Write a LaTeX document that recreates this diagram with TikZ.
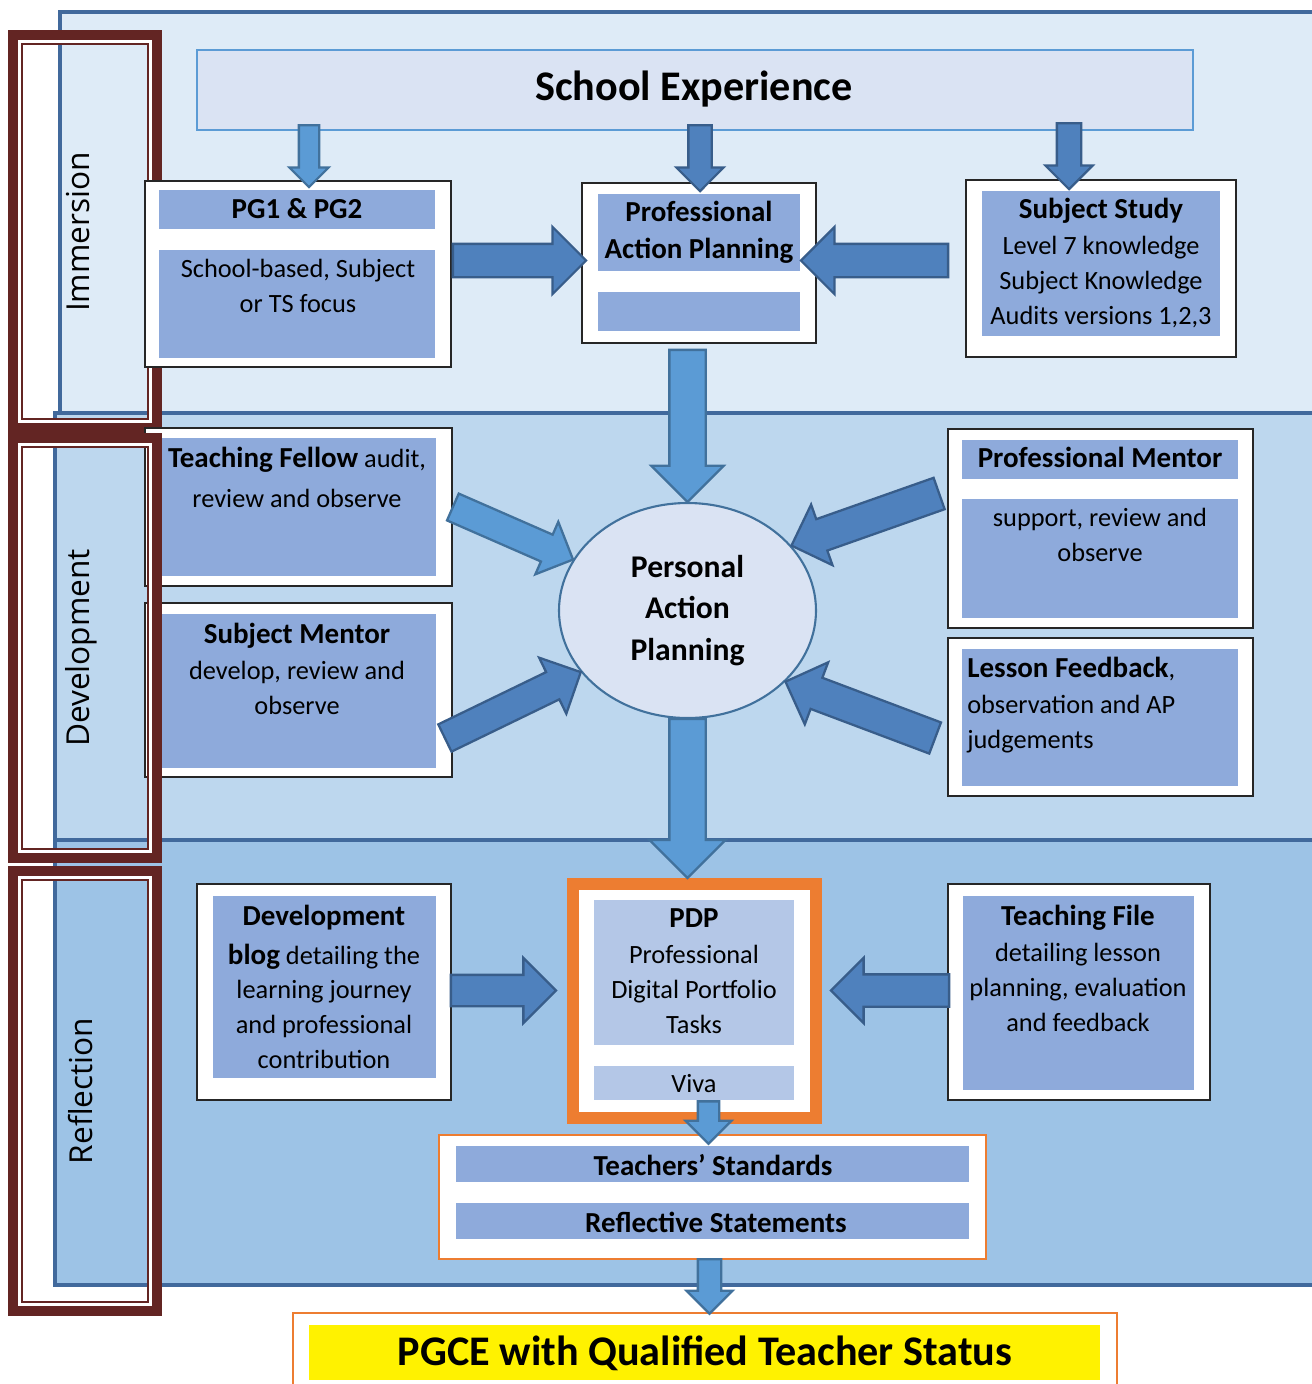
\documentclass[tikz,border=0pt]{standalone}
\usepackage{fontspec}
\setmainfont{Carlito}
\newfontfamily\stagefont{Open Sans}
\usetikzlibrary{shapes.geometric,shapes.arrows,fit,calc}

\definecolor{bandA}{HTML}{DEEBF7}
\definecolor{bandB}{HTML}{BDD7EE}
\definecolor{bandC}{HTML}{9DC3E6}
\definecolor{bandline}{HTML}{41699C}
\definecolor{headfill}{HTML}{DAE3F3}
\definecolor{headline}{HTML}{5B9BD5}
\definecolor{barfill}{HTML}{8EAADB}
\definecolor{pdpfill}{HTML}{B4C7E7}
\definecolor{lightarrow}{HTML}{5B9BD5}
\definecolor{lightedge}{HTML}{41719C}
\definecolor{darkarrow}{HTML}{4F81BD}
\definecolor{darkedge}{HTML}{385D8A}
\definecolor{framered}{HTML}{632523}
\definecolor{qtsorange}{HTML}{ED7D31}

% one unit is one pixel of the layout grid
\def\pxu{0.02cm}
\newcommand\bodyfont{\fontsize{15}{19.8}\selectfont}
\newcommand\headfont{\fontsize{16.5}{21}\selectfont\bfseries}

\tikzset{
  cardbox/.style={draw=black!85, fill=white, line width=1pt, inner sep=0pt},
  cardbar/.style={fill=barfill, inner sep=0pt},
  cardtxt/.style={font=\bodyfont, align=center, inner sep=0pt},
  cardhead/.style={font=\headfont, inner sep=0pt, anchor=base},
  stage/.style={font=\stagefont\fontsize{18}{22}\selectfont, rotate=90, anchor=base, inner sep=0pt},
  fatarrow/.style={single arrow, single arrow tip angle=90, inner sep=0pt, outer sep=0pt, line width=1.3pt},
  lightfat/.style={fatarrow, fill=lightarrow, draw=lightedge},
  darkfat/.style={fatarrow, fill=darkarrow, draw=darkedge},
  % head width, shaft width
  widths/.style 2 args={inner ysep={#2/2*\pxu}, minimum width={#1*\pxu}, single arrow head extend={(#1-#2)/2*\pxu}},
}

% block arrow named #2 from #3 to #4
\newcommand\blockarrow[4][]{%
  \path let \p1=(#3), \p2=(#4), \n1={atan2(\y2-\y1,\x2-\x1)}, \n2={veclen(\x2-\x1,\y2-\y1)} in
    node[#1, rotate=\n1, minimum height=\n2, anchor=tail] (#2) at (\p1) {};}

% double maroon frame round a stage label
\newcommand\stageframe[2]{%
  \draw[framered, line width=5.7pt] (13,#1+5) rectangle (157,#2-5);
  \draw[white, line width=1.7pt] (19.5,#1+11.5) rectangle (150.5,#2-11.5);
  \draw[framered, line width=1.1pt] (22,#1+14) rectangle (148,#2-14);}

\begin{document}
\begin{tikzpicture}[x=\pxu, y=-\pxu]
\useasboundingbox (0,0) rectangle (1312,1384);
\fill[white] (0,0) rectangle (1312,1384);
\clip (0,0) rectangle (1312,1384);

% Stage bands
\draw[bandline, line width=2.2pt, fill=bandA] (60,12) rectangle (1340,413);
\draw[bandline, line width=2.2pt, fill=bandB] (55,413) rectangle (1340,840);
\draw[bandline, line width=2.2pt, fill=bandC] (55,840) rectangle (1340,1285);

\node[stage] (immersion) at (90,232) {Immersion};
\node[stage] (development) at (89,648) {Development};
\node[stage] (reflection) at (92,1091) {Reflection};

\stageframe{30}{433}
\stageframe{866}{1316}

% School Experience
\node[fit={(197,50) (1193,130)}, fill=headfill, draw=headline, line width=1.5pt, inner sep=0pt] (se) {};
\node[font=\fontsize{24}{29}\selectfont\bfseries, anchor=base, inner sep=0pt] (setitle) at (694,100) {School Experience};

% Immersion boxes
\node[cardbox, fit={(145,181) (451,367)}] (pg) {};
\node[cardbar, fit={(159,190) (435,229)}] (pgbar) {};
\node[cardbar, fit={(159,250) (435,358)}] (pgbody) {};
\node[cardhead] (pghead) at (297,218) {PG1 \& PG2};
\node[cardtxt] (pgtext) at (298,286) {School-based, Subject\\or TS focus};

\node[cardbox, fit={(582,183) (816,343)}] (pap) {};
\node[cardbar, fit={(598,194) (800,271)}] (papbar) {};
\node[cardbar, fit={(598,292) (800,331)}] (papblank) {};
\node[cardtxt, font=\headfont] (paptext) at (699,232) {Professional\\Action Planning};

\node[cardbox, fit={(966,180) (1236,357)}] (ss) {};
\node[cardbar, fit={(982,191) (1220,336)}] (ssbar) {};
\node[cardtxt] (sstext) at (1101,263) {{\headfont Subject Study}\\[1pt]Level 7 knowledge\\Subject Knowledge\\Audits versions 1,2,3};

% Development boxes
\node[cardbox, fit={(145,428) (452,586)}] (tf) {};
\node[cardbar, fit={(158,438) (436,576)}] (tfbar) {};
\node[cardtxt] (tftext) at (297,477) {{\headfont Teaching Fellow} audit,\\[3pt]review and observe};

\node[cardbox, fit={(145,603) (452,777)}] (sm) {};
\node[cardbar, fit={(158,614) (436,768)}] (smbar) {};
\node[cardtxt] (smtext) at (297,669) {{\headfont Subject Mentor}\\[1pt]develop, review and\\observe};

\node[ellipse, draw=lightedge, fill=headfill, line width=1.2pt, minimum width={257*\pxu}, minimum height={215*\pxu},
  inner sep=0pt, align=center, font=\fontsize{18}{23.8}\selectfont\bfseries] (plan) at (687.5,610.5) {Personal\\Action\\Planning};

\node[cardbox, fit={(948,429) (1253,628)}] (pm) {};
\node[cardbar, fit={(962,440) (1238,479)}] (pmbar) {};
\node[cardbar, fit={(962,499) (1238,618)}] (pmbody) {};
\node[cardhead] (pmhead) at (1100,467) {Professional Mentor};
\node[cardtxt] (pmtext) at (1100,535) {support, review and\\observe};

\node[cardbox, fit={(948,638) (1253,796)}] (lf) {};
\node[cardbar, fit={(962,649) (1238,786)}] (lfbar) {};
\node[cardtxt, align=left, anchor=west] (lftext) at (967,705) {{\headfont Lesson Feedback},\\[1pt]observation and AP\\judgements};

% Reflection boxes
\node[cardbox, fit={(197,884) (451,1100)}] (blog) {};
\node[cardbar, fit={(213,896) (436,1078)}] (blogbar) {};
\node[cardtxt] (blogtext) at (324,987) {{\headfont Development}\\[2pt]{\headfont blog} detailing the\\learning journey\\and professional\\contribution};

\node[fit={(573,884) (816,1118)}, draw=qtsorange, line width=6.8pt, fill=white, inner sep=0pt] (pdp) {};
\node[fill=pdpfill, inner sep=0pt, fit={(594,900) (794,1045)}] (pdpbar) {};
\node[fill=pdpfill, inner sep=0pt, fit={(594,1066) (794,1100)}] (viva) {};
\node[cardtxt] (pdptext) at (694,971) {{\headfont PDP}\\[1pt]Professional\\Digital Portfolio\\Tasks};
\node[cardtxt, anchor=base] (vivatext) at (694,1092) {Viva};

\node[cardbox, fit={(948,884) (1210,1100)}] (tfile) {};
\node[cardbar, fit={(963,896) (1194,1090)}] (tfilebar) {};
\node[cardtxt] (tfiletext) at (1078,968) {{\headfont Teaching File}\\[1pt]detailing lesson\\planning, evaluation\\and feedback};

\node[fit={(439,1135) (986,1259)}, draw=qtsorange, line width=1.4pt, fill=white, inner sep=0pt] (tsrs) {};
\node[cardbar, fit={(456,1146) (969,1182)}] (tsbar) {};
\node[cardbar, fit={(456,1203) (969,1239)}] (rsbar) {};
\node[cardhead] (tstext) at (713,1175) {Teachers’ Standards};
\node[cardhead] (rstext) at (716,1232) {Reflective Statements};

% Award
\node[fit={(293,1313) (1117,1400)}, draw=qtsorange, line width=1.4pt, fill=white, inner sep=0pt] (qts) {};
\node[fill=yellow, inner sep=0pt, fit={(309,1325) (1100,1380)}] (qtsbar) {};
\node[font=\fontsize{24}{29}\selectfont\bfseries, anchor=base, inner sep=0pt] (qtstext) at (705,1365) {PGCE with Qualified Teacher Status};

% Arrows into the action plans
\blockarrow[lightfat, widths={37}{18}]{se2pg}{$(309,0 |- se.south)+(0,-6)$}{$(309,0 |- pg.north)+(0,7)$}
\blockarrow[darkfat, widths={45}{21}]{se2pap}{$(700,0 |- se.south)+(0,-6)$}{$(700,0 |- pap.north)+(0,9)$}
\blockarrow[darkfat, widths={45}{22}]{se2ss}{$(1069,0 |- se.south)+(0,-8)$}{$(1069,0 |- ss.north)+(0,10)$}
\blockarrow[darkfat, widths={65}{31}]{pg2pap}{$(pg.east |- 0,260.5)+(1,0)$}{$(pap.west |- 0,260.5)+(5,0)$}
\blockarrow[darkfat, widths={65}{31}]{ss2pap}{$(ss.west |- 0,260.5)+(-17,0)$}{$(pap.east |- 0,260.5)+(-16,0)$}
\blockarrow[lightfat, widths={70}{34}]{pap2plan}{$(pap.south -| plan.north)+(0,6)$}{plan.north}
\blockarrow[lightfat, widths={55}{27}]{tf2plan}{tf.east}{plan.156}
\blockarrow[darkfat, widths={60}{28}]{sm2plan}{$(sm.east)+(-8,48)$}{plan.210}
\blockarrow[darkfat, widths={62}{31}]{pm2plan}{$(pm.west)+(-8,-35)$}{plan.32}
\blockarrow[darkfat, widths={64}{31}]{lf2plan}{$(lf.west)+(-12,21)$}{plan.324}
\blockarrow[lightfat, widths={74}{34}]{plan2pdp}{plan.south}{plan.south |- pdp.north}
% Arrows into the portfolio
\blockarrow[darkfat, widths={63}{29}]{blog2pdp}{$(blog.east |- 0,990.5)+(-1,0)$}{$(pdp.west |- 0,990.5)+(-11,0)$}
\blockarrow[darkfat, widths={63}{30}]{file2pdp}{$(tfile.west |- 0,990.5)+(2,0)$}{$(pdp.east |- 0,990.5)+(9,0)$}
\blockarrow[lightfat, widths={44}{19}]{viva2ts}{$(viva.south)+(14.5,1)$}{$(viva.south |- tsrs.north)+(14.5,10)$}
\blockarrow[lightfat, widths={44}{21}]{ts2qts}{$(tsrs.south -| 709.5,0)+(0,-1)$}{$(709.5,0 |- qts.north)+(0,2)$}

\stageframe{433}{863}
\end{tikzpicture}
\end{document}
